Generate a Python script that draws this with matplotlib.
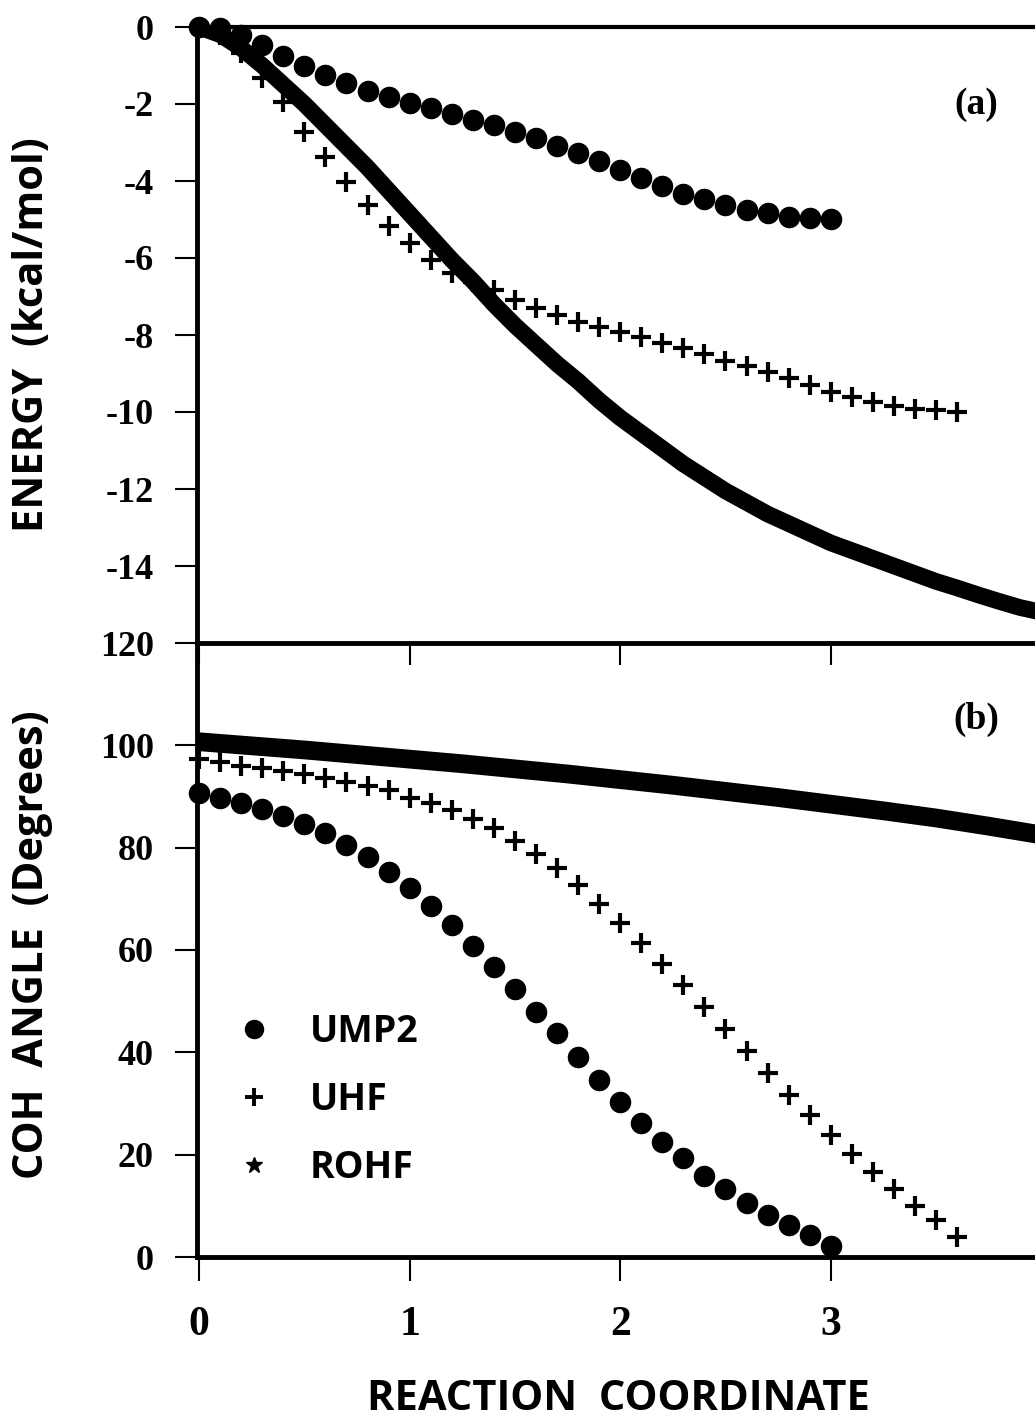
import matplotlib
matplotlib.use("Agg")
import matplotlib.pyplot as plt
from matplotlib.lines import Line2D

# ---------------- data ----------------
# (a) energies, kcal/mol
x_ump2 = [0.0, 0.1, 0.2, 0.3, 0.4, 0.5, 0.6, 0.7, 0.8, 0.9, 1.0, 1.1, 1.2, 1.3, 1.4,
          1.5, 1.6, 1.7, 1.8, 1.9, 2.0, 2.1, 2.2, 2.3, 2.4, 2.5, 2.6, 2.7, 2.8, 2.9, 3.0]
e_ump2 = [0.0, -0.03, -0.21, -0.47, -0.75, -1.01, -1.25, -1.45, -1.66, -1.82, -1.97,
          -2.10, -2.26, -2.42, -2.55, -2.73, -2.88, -3.09, -3.27, -3.48, -3.71, -3.92,
          -4.13, -4.34, -4.47, -4.62, -4.75, -4.83, -4.94, -4.96, -4.99]

x_uhf = [0.0, 0.1, 0.2, 0.3, 0.4, 0.5, 0.6, 0.7, 0.8, 0.9, 1.0, 1.1, 1.2, 1.3, 1.4,
         1.5, 1.6, 1.7, 1.8, 1.9, 2.0, 2.1, 2.2, 2.3, 2.4, 2.5, 2.6, 2.7, 2.8, 2.9,
         3.0, 3.1, 3.2, 3.3, 3.4, 3.5, 3.6]
e_uhf = [0.0, -0.2, -0.68, -1.32, -1.95, -2.73, -3.38, -4.03, -4.62, -5.17, -5.60,
         -6.04, -6.39, -6.62, -6.83, -7.10, -7.30, -7.48, -7.66, -7.79, -7.92, -8.05,
         -8.21, -8.34, -8.50, -8.68, -8.80, -8.96, -9.12, -9.30, -9.48, -9.61, -9.74,
         -9.85, -9.92, -9.95, -10.0]

x_rohf = [0.0, 0.1, 0.2, 0.3, 0.4, 0.5, 0.6, 0.7, 0.8, 0.9, 1.0, 1.1, 1.2, 1.3, 1.4,
          1.5, 1.6, 1.7, 1.8, 1.9, 2.0, 2.1, 2.2, 2.3, 2.4, 2.5, 2.6, 2.7, 2.8, 2.9,
          3.0, 3.1, 3.2, 3.3, 3.4, 3.5, 3.6, 3.7, 3.8, 3.9, 4.0]
e_rohf = [0.0, -0.2, -0.55, -1.0, -1.5, -2.0, -2.55, -3.1, -3.65, -4.25, -4.85,
          -5.45, -6.05, -6.6, -7.2, -7.75, -8.25, -8.75, -9.2, -9.7, -10.15, -10.55,
          -10.95, -11.35, -11.7, -12.05, -12.35, -12.65, -12.9, -13.15, -13.4, -13.6,
          -13.8, -14.0, -14.2, -14.4, -14.57, -14.75, -14.92, -15.08, -15.2]

# (b) COH angle, degrees
a_ump2 = [90.6, 89.8, 88.7, 87.5, 86.1, 84.6, 82.8, 80.5, 78.1, 75.2, 72.1, 68.6,
          64.8, 60.7, 56.6, 52.3, 47.9, 43.7, 39.1, 34.6, 30.3, 26.2, 22.5, 19.3,
          15.8, 13.3, 10.5, 8.2, 6.3, 4.3, 2.1]
a_uhf = [97.3, 96.7, 95.9, 95.5, 94.9, 94.3, 93.6, 92.8, 92.0, 91.2, 89.8, 88.7,
         87.3, 85.7, 83.8, 81.3, 78.7, 76.0, 72.7, 68.9, 65.2, 61.3, 57.2, 53.1,
         48.8, 44.5, 40.2, 35.9, 31.6, 27.7, 23.8, 20.1, 16.6, 13.3, 10.0, 7.2, 3.9]
x_rohf_b = [0.0, 0.25, 0.5, 0.75, 1.0, 1.25, 1.5, 1.75, 2.0, 2.25, 2.5, 2.75, 3.0,
            3.25, 3.5, 3.75, 4.0]
a_rohf = [100.7, 99.9, 99.1, 98.2, 97.3, 96.4, 95.4, 94.4, 93.3, 92.2, 91.0, 89.8,
          88.5, 87.2, 85.8, 84.2, 82.5]

e_ticks = [0, -2, -4, -6, -8, -10, -12, -14]
a_ticks = [0, 20, 40, 60, 80, 100, 120]
x_ticks = [0, 1, 2, 3]
labels = ["UMP2", "UHF", "ROHF"]

# ---------------- styling ----------------
TICKFONT = dict(family="Liberation Serif", weight="bold")
LABFONT = dict(family="Open Sans", weight="bold")

W, H = 1035, 1421
fig = plt.figure(figsize=(W / 100, H / 100), dpi=100)
left = 197 / W
ax1 = fig.add_axes([left, 1 - 643 / H, 1 - left, (643 - 27) / H])
ax2 = fig.add_axes([left, 1 - 1257 / H, 1 - left, (1257 - 643) / H])
ax2.patch.set_visible(False)

xlim = (-0.01, 3.97)
dot_kw = dict(ls="none", marker="o", ms=14.5, color="black", clip_on=False, zorder=4)
plus_kw = dict(ls="none", marker="+", ms=14, mew=3.0, color="black", clip_on=False, zorder=4)

# panel (a)
ax1.plot(x_rohf, e_rohf, color="black", lw=12, solid_capstyle="round", zorder=3)
ax1.plot(x_uhf, e_uhf, **plus_kw)
ax1.plot(x_ump2, e_ump2, **dot_kw)
ax1.set_xlim(*xlim)
ax1.set_ylim(-16, 0)
ax1.set_yticks(e_ticks)
ax1.set_yticklabels([str(t) for t in e_ticks], fontsize=26, **TICKFONT)
ax1.set_xticks(x_ticks)
ax1.set_xticklabels([])
ax1.tick_params(axis="both", direction="out", length=16, width=1.5, pad=15)
ax1.spines["right"].set_visible(False)
ax1.spines["left"].set_linewidth(3.5)
ax1.spines["top"].set_linewidth(3)
ax1.spines["bottom"].set_linewidth(3.5)
ax1.text(3.69, -2.0, "(a)", ha="center", va="center", fontsize=27, **TICKFONT)

# panel (b)
ax2.plot(x_rohf_b, a_rohf, color="black", lw=13.5, solid_capstyle="round", zorder=3)
ax2.plot(x_uhf, a_uhf, **plus_kw)
ax2.plot(x_ump2, a_ump2, **dot_kw)
ax2.set_xlim(*xlim)
ax2.set_ylim(0, 120)
ax2.set_yticks(a_ticks)
ax2.set_yticklabels([str(t) for t in a_ticks], fontsize=26, **TICKFONT)
ax2.set_xticks(x_ticks)
ax2.set_xticklabels([str(t) for t in x_ticks], fontsize=30, **TICKFONT)
ax2.tick_params(axis="y", direction="out", length=16, width=1.5, pad=15)
ax2.tick_params(axis="x", direction="out", length=17, width=1.5, pad=18)
ax2.spines["right"].set_visible(False)
ax2.spines["top"].set_visible(False)
ax2.spines["left"].set_linewidth(3.5)
ax2.spines["bottom"].set_linewidth(3.5)
ax2.text(3.69, 105, "(b)", ha="center", va="center", fontsize=27, **TICKFONT)

handles = [Line2D([], [], ls="none", marker="o", ms=13, color="black"),
           Line2D([], [], ls="none", marker="+", ms=13, mew=2.8, color="black"),
           Line2D([], [], ls="none", marker="*", ms=12, color="black")]
leg = ax2.legend(handles, labels, loc="upper left", bbox_to_anchor=(0.005, 0.452),
                 frameon=False, handlelength=1.0, handletextpad=1.0, labelspacing=0.8,
                 prop=dict(family="Open Sans", weight="bold", size=27))

fig.text(33 / W, 1 - 335 / H, "ENERGY  (kcal/mol)", rotation=90, ha="center",
         va="center", fontsize=30, **LABFONT)
fig.text(33 / W, 1 - 945 / H, "COH  ANGLE  (Degrees)", rotation=90, ha="center",
         va="center", fontsize=30, **LABFONT)
fig.text(618 / W, 1 - 1400 / H, "REACTION  COORDINATE", ha="center", va="center",
         fontsize=30, **LABFONT)

fig.savefig("out.png", dpi=100)
